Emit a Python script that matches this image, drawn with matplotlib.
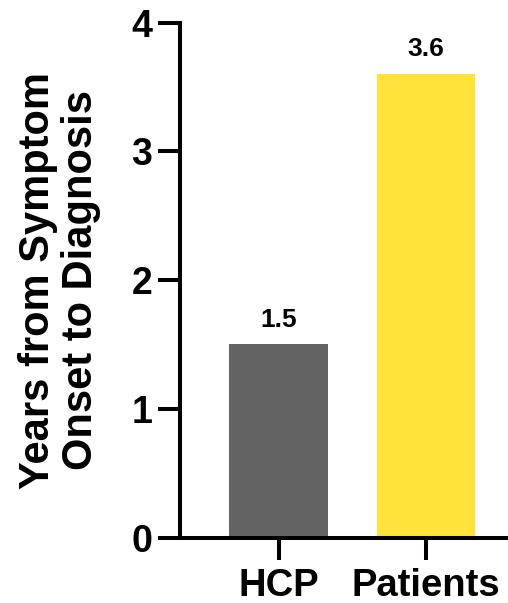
import matplotlib.pyplot as plt

# Dados
grupos = ['HCP', 'Patients']
anos = [1.5, 3.6]
rotulos = ['1.5', '3.6']
cores = ['#636363', '#FFE33B']
yticks = [0, 1, 2, 3, 4]

plt.rcParams['font.family'] = ['Liberation Sans', 'DejaVu Sans']
plt.rcParams['font.weight'] = 'bold'

fig = plt.figure(figsize=(5.08, 6.03), dpi=100)
ax = fig.add_axes([180 / 508, 1 - 537.5 / 603, 1 - 180 / 508, (537.5 - 22.7) / 603])

x = range(len(grupos))
barras = ax.bar(x, anos, width=0.667, color=cores)
for b, r in zip(barras, rotulos):
    ax.text(b.get_x() + b.get_width() / 2, b.get_height() + 0.1, r,
            ha='center', va='bottom', fontsize=19, fontweight='bold')

ax.set_xlim(-0.67, 1.56)
ax.set_ylim(0, 4)
ax.set_yticks(yticks)
ax.set_xticks(list(x))
ax.set_xticklabels(grupos, fontsize=27.5, fontweight='bold')
ax.set_yticklabels([str(t) for t in yticks], fontsize=27, fontweight='bold')

for s in ['top', 'right']:
    ax.spines[s].set_visible(False)
for s in ['left', 'bottom']:
    ax.spines[s].set_linewidth(2.9)
ax.tick_params(axis='both', length=15.8, width=2.9, direction='out')
ax.tick_params(axis='y', pad=4)
ax.tick_params(axis='x', pad=6)

ax.set_ylabel('Years from Symptom\nOnset to Diagnosis', fontsize=30,
              fontweight='bold', labelpad=22, linespacing=1.1)

fig.savefig('out.png', dpi=100)
